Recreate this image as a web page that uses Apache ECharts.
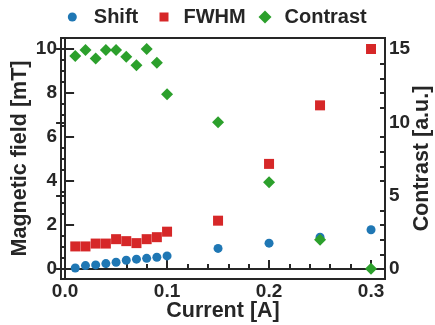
<!DOCTYPE html>
<html><head><meta charset="utf-8">
<script src="https://cdn.jsdelivr.net/npm/echarts@6/dist/echarts.min.js"></script>
<style>html,body{margin:0;padding:0;background:#fff}#c{width:435px;height:325px}</style>
</head><body><div id="c"></div>
<script>
const current = [0.01,0.02,0.03,0.04,0.05,0.06,0.07,0.08,0.09,0.10,0.15,0.20,0.25,0.30];
const shift = [0.05,0.16,0.19,0.25,0.31,0.40,0.45,0.49,0.54,0.60,0.94,1.18,1.45,1.79];
const fwhm = [1.03,1.03,1.16,1.16,1.36,1.27,1.18,1.36,1.45,1.70,2.20,4.78,7.44,10.0];
const contrast = [14.52,14.93,14.36,14.93,14.93,14.47,13.89,15.0,14.07,11.91,10.0,5.92,2.0,0.02];
const xTicks = [0.0,0.1,0.2,0.3];
const xMinor = [0.02,0.04,0.06,0.08,0.12,0.14,0.16,0.18,0.22,0.24,0.26,0.28];
const yLeftTicks = [0,2,4,6,8,10];
const yLeftMinor = [0.5,1,1.5,2.5,3,3.5,4.5,5,5.5,6.5,7,7.5,8.5,9,9.5];
const yRightTicks = [0,5,10,15];
const yRightMinor = [1,2,3,4,6,7,8,9,11,12,13,14];

const C = '#262626';
const F = 'Liberation Sans, Arial, sans-serif';
const xMin = -0.004, xMax = 0.3137;
const yLMin = -0.45, yLMax = 10.5;
const yRMin = -0.675, yRMax = 15.75;
const tick = {color:C, fontFamily:F, fontWeight:'bold', fontSize:19};
const nameStyle = {color:C, fontFamily:F, fontWeight:'bold', fontSize:21.5};
const legText = (pad) => ({color:C, fontFamily:F, fontWeight:'bold', fontSize:20, padding:[0,0,0,pad]});

const chart = echarts.init(document.getElementById('c'), null, {renderer:'canvas'});
chart.setOption({
  animation:false,
  legend:[
    {top:7, left:67.8, padding:0, itemWidth:9, itemHeight:9, textStyle:legText(12),
     data:[{name:'Shift',icon:'circle'}]},
    {top:7, left:159.5, padding:0, itemWidth:9, itemHeight:9, textStyle:legText(10),
     data:[{name:'FWHM',icon:'rect'}]},
    {top:7, left:258.5, padding:0, itemWidth:13, itemHeight:13, textStyle:legText(8),
     data:[{name:'Contrast',icon:'diamond'}]}
  ],
  grid:{left:61, right:50, top:38, bottom:46, outerBoundsMode:'none', containLabel:false,
        show:true, borderColor:C, borderWidth:2, backgroundColor:'transparent'},
  xAxis:[
    {type:'value', min:xMin, max:xMax, position:'bottom',
     name:'Current [A]', nameLocation:'middle', nameGap:21, nameMoveOverlap:false,
     nameTextStyle:nameStyle,
     axisLine:{show:true, lineStyle:{color:C, width:2}},
     axisTick:{show:true, inside:true, length:9, lineStyle:{color:C, width:2}, customValues:xTicks},
     axisLabel:Object.assign({}, tick, {margin:3, customValues:xTicks, formatter:v=>v.toFixed(1)}),
     splitLine:{show:false}},
    {type:'value', min:xMin, max:xMax, position:'bottom',
     axisLine:{show:false},
     axisTick:{show:true, inside:true, length:5, lineStyle:{color:C, width:2}, customValues:xMinor},
     axisLabel:{show:false}, splitLine:{show:false}}
  ],
  yAxis:[
    {type:'value', min:yLMin, max:yLMax, position:'left',
     name:'Magnetic field [mT]', nameLocation:'middle', nameGap:30, nameMoveOverlap:false,
     nameTextStyle:nameStyle,
     axisLine:{show:true, lineStyle:{color:C, width:2}},
     axisTick:{show:true, inside:true, length:9, lineStyle:{color:C, width:2}, customValues:yLeftTicks},
     axisLabel:Object.assign({}, tick, {margin:4, customValues:yLeftTicks}),
     splitLine:{show:false}},
    {type:'value', min:yRMin, max:yRMax, position:'right',
     name:'Contrast [a.u.]', nameLocation:'middle', nameGap:26, nameMoveOverlap:false,
     nameTextStyle:nameStyle,
     axisLine:{show:true, lineStyle:{color:C, width:2}},
     axisTick:{show:true, inside:true, length:9, lineStyle:{color:C, width:2}, customValues:yRightTicks},
     axisLabel:Object.assign({}, tick, {margin:4, customValues:yRightTicks}),
     splitLine:{show:false}},
    {type:'value', min:yLMin, max:yLMax, position:'left',
     axisLine:{show:false},
     axisTick:{show:true, inside:true, length:5, lineStyle:{color:C, width:2}, customValues:yLeftMinor},
     axisLabel:{show:false}, splitLine:{show:false}},
    {type:'value', min:yRMin, max:yRMax, position:'right',
     axisLine:{show:false},
     axisTick:{show:true, inside:true, length:5, lineStyle:{color:C, width:2}, customValues:yRightMinor},
     axisLabel:{show:false}, splitLine:{show:false}}
  ],
  series:[
    {name:'Shift', type:'scatter', xAxisIndex:0, yAxisIndex:0, symbol:'circle', symbolSize:9,
     itemStyle:{color:'#1f77b4', opacity:1}, data:current.map((x,i)=>[x,shift[i]]), z:3},
    {name:'FWHM', type:'scatter', xAxisIndex:0, yAxisIndex:0, symbol:'rect', symbolSize:10,
     itemStyle:{color:'#d62728', opacity:1}, data:current.map((x,i)=>[x,fwhm[i]]), z:2},
    {name:'Contrast', type:'scatter', xAxisIndex:0, yAxisIndex:1, symbol:'diamond', symbolSize:12,
     itemStyle:{color:'#2ca02c', opacity:1}, data:current.map((x,i)=>[x,contrast[i]]), z:4}
  ]
});
</script></body></html>
